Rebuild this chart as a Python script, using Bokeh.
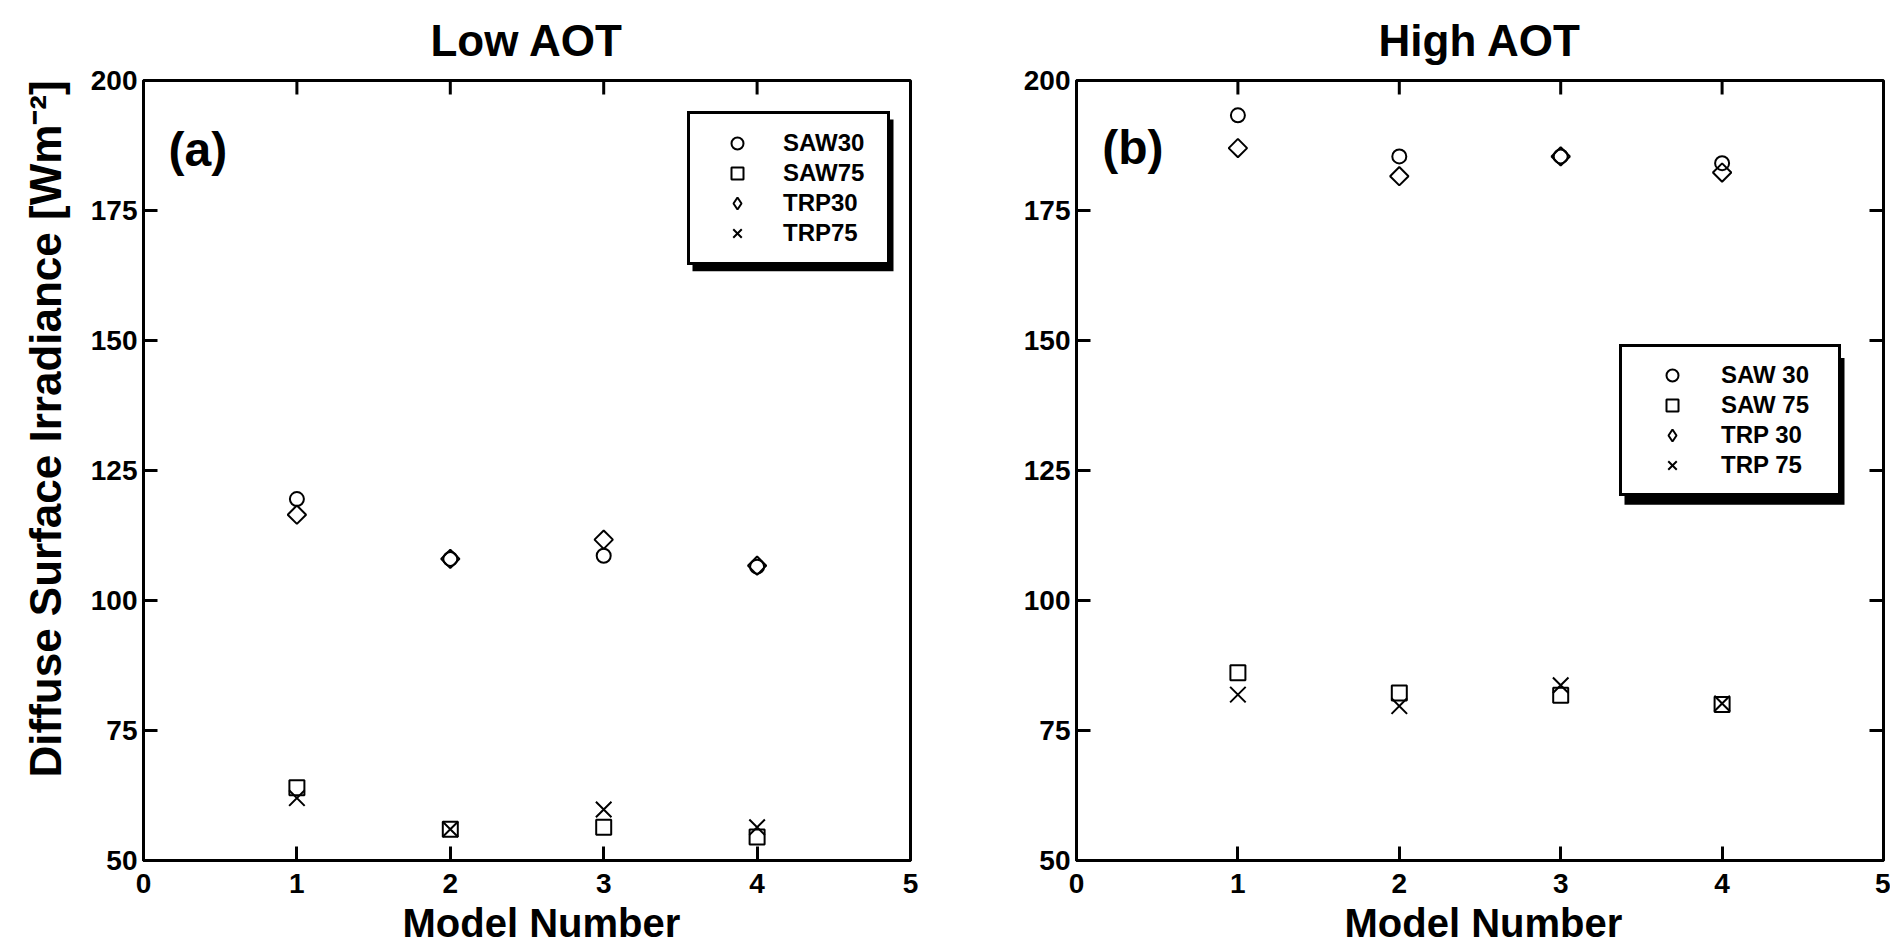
import math
from bokeh.plotting import figure
from bokeh.models import (Range1d, FixedTicker, Legend, LegendItem,
                          BoxAnnotation, Title, Label)
from bokeh.layouts import row
from bokeh.embed import file_html
from bokeh.resources import INLINE

# ---------------- data ----------------
models = [1, 2, 3, 4]

low_saw30 = [119.5, 108.0, 108.6, 106.5]
low_saw75 = [64.0, 56.0, 56.4, 54.5]
low_trp30 = [116.5, 108.0, 111.7, 106.7]
low_trp75 = [62.0, 56.0, 59.8, 56.4]

high_saw30 = [193.3, 185.4, 185.4, 184.1]
high_saw75 = [86.1, 82.2, 81.8, 80.0]
high_trp30 = [187.0, 181.6, 185.4, 182.3]
high_trp75 = [81.9, 79.7, 83.7, 80.2]

panel_titles = ["Low AOT", "High AOT"]
panel_tags = ["(a)", "(b)"]
x_title = "Model Number"
y_title = "Diffuse Surface Irradiance [Wm\u207b\u00b2]"
legend_low = ["SAW30", "SAW75", "TRP30", "TRP75"]
legend_high = ["SAW 30", "SAW 75", "TRP 30", "TRP 75"]
x_ticks = [0, 1, 2, 3, 4, 5]
y_ticks = [50, 75, 100, 125, 150, 175, 200]

FONT = "Liberation Sans"
TICK = 14  # inward tick length, px


def style_axis(ax, ticks, standoff):
    ax.ticker = FixedTicker(ticks=ticks)
    ax.axis_line_color = "black"
    ax.axis_line_width = 3
    ax.major_tick_in = TICK
    ax.major_tick_out = 0
    ax.major_tick_line_width = 3
    ax.major_tick_line_color = "black"
    ax.minor_tick_line_color = None
    ax.major_label_text_font = FONT
    ax.major_label_text_font_style = "bold"
    ax.major_label_text_color = "black"
    ax.major_label_text_font_size = "28px"
    ax.major_label_standoff = standoff


def build(geom, series, labels, title, tag, tag_px, xlab_offset, ylab,
          legend_geom, shadow_px, right_ticks):
    W, H, bl, br, bt, bb = geom
    fw = W - bl - br
    fh = H - bt - bb

    def dx(px):
        return (px - bl) / fw * 5.0

    def dy(py):
        return 50.0 + (bt + fh - py) / fh * 150.0

    p = figure(width=W, height=H, x_range=Range1d(0, 5), y_range=Range1d(50, 200),
               output_backend="svg", toolbar_location=None,
               min_border_left=bl, min_border_right=br,
               min_border_top=bt, min_border_bottom=bb,
               background_fill_color="white", border_fill_color="white",
               outline_line_color="black", outline_line_width=3)
    p.xgrid.visible = False
    p.ygrid.visible = False
    for ax in p.xaxis:
        style_axis(ax, x_ticks, 13)
    for ax in p.yaxis:
        style_axis(ax, y_ticks, 6)

    # panel title
    p.title.text = title
    p.title.align = "center"
    p.title.vertical_align = "top"
    p.title.text_font = FONT
    p.title.text_font_style = "bold"
    p.title.text_font_size = "44px"
    p.title.text_color = "black"
    p.title.standoff = 28

    # x-axis title
    p.add_layout(Title(text=x_title, align="left", offset=xlab_offset,
                       vertical_align="top", standoff=10, text_font=FONT,
                       text_font_style="bold", text_font_size="40px",
                       text_color="black"), "below")
    if ylab is not None:
        p.add_layout(Title(text=y_title, align="left", offset=ylab,
                           vertical_align="middle", standoff=34, text_font=FONT,
                           text_font_style="bold", text_font_size="44px",
                           text_color="black"), "left")

    # inward ticks on the top (and right) frame edges
    xl = TICK / (fw / 5.0)
    yl = TICK / (fh / 150.0)
    p.segment(x0=x_ticks, y0=[200] * len(x_ticks), x1=x_ticks,
              y1=[200 - yl] * len(x_ticks), line_color="black", line_width=3)
    if right_ticks:
        p.segment(x0=[5] * len(y_ticks), y0=y_ticks, x1=[5 - xl] * len(y_ticks),
                  y1=y_ticks, line_color="black", line_width=3)

    s30, s75, t30, t75 = series
    mk = dict(fill_color=None, line_color="black", line_width=2)
    r1 = p.scatter(x=models, y=s30, marker="circle", size=14, **mk)
    r2 = p.scatter(x=models, y=s75, marker="square", size=15, **mk)
    p.scatter(x=models, y=t30, marker="square", angle=math.pi / 4, size=13, **mk)
    # legend proxy for the diamond (zero size in the plot itself)
    r3 = p.scatter(x=models, y=t30, marker="diamond", size=0, **mk)
    r4 = p.scatter(x=models, y=t75, marker="x", size=22, line_color="black",
                   line_width=2)

    # legend drop shadow
    sl, st, sr, sb = shadow_px
    p.add_layout(BoxAnnotation(left=dx(sl), right=dx(sr), top=dy(st), bottom=dy(sb),
                               fill_color="black", fill_alpha=1.0, line_color=None))
    lx, lbottom, gw, gh, lw, pad, sp, lso = legend_geom
    items = [LegendItem(label=labels[0], renderers=[r1]),
             LegendItem(label=labels[1], renderers=[r2]),
             LegendItem(label=labels[2], renderers=[r3]),
             LegendItem(label=labels[3], renderers=[r4])]
    leg = Legend(items=items, location=(lx - bl, (bt + fh) - lbottom),
                 orientation="vertical", border_line_color="black",
                 border_line_alpha=1.0, border_line_width=3,
                 background_fill_color="white", background_fill_alpha=1.0,
                 padding=pad, spacing=sp, glyph_width=gw, glyph_height=gh,
                 label_standoff=lso, label_width=lw, label_height=gh, margin=0,
                 label_text_font=FONT, label_text_font_style="bold",
                 label_text_font_size="24px", label_text_color="black")
    p.add_layout(leg)

    p.add_layout(Label(x=dx(tag_px[0]), y=dy(tag_px[1]), text=tag,
                       text_align="left", text_baseline="alphabetic",
                       text_font=FONT, text_font_style="bold",
                       text_font_size="48px", text_color="black"))
    return p


left = build((960, 951, 143, 50, 79, 91),
             (low_saw30, low_saw75, low_trp30, low_trp75), legend_low,
             panel_titles[0], panel_tags[0], (168, 148), 259, 83,
             (687, 265, 66, 30, 90, 14, 0, 13), (692, 118, 893, 270),
             right_ticks=False)

right = build((930, 951, 116, 7, 80, 84),
              (high_saw30, high_saw75, high_trp30, high_trp75), legend_high,
              panel_titles[1], panel_tags[1], (141.7, 147.3), 268, None,
              (659, 503, 74, 30, 104, 13, 0, 12), (664, 360, 884, 508),
              right_ticks=True)

layout = row(left, right)
open("out.html", "w").write(file_html(layout, INLINE))
